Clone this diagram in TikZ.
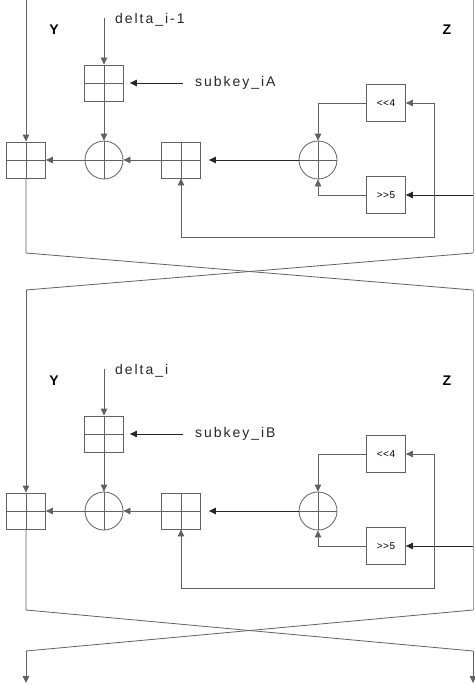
\documentclass[tikz,border=0pt]{standalone}
\usepackage{fontspec}
\setmainfont{Liberation Sans}
\usetikzlibrary{arrows.meta}
\tikzset{
  x=1pt, y=-1pt,
  wire/.style={draw=black!62, line width=0.8pt},
  darkwire/.style={draw=black!85, line width=0.9pt},
  tip/.style={-{Triangle[length=7pt,width=6.5pt]}},
  crosspic/.style={path picture={\draw[black!62,line width=0.8pt]
      (path picture bounding box.north)--(path picture bounding box.south)
      (path picture bounding box.west)--(path picture bounding box.east);}},
  plusbox/.style={draw=black!62, line width=0.8pt, minimum width=39pt, minimum height=36pt, inner sep=0pt, crosspic},
  xorc/.style={circle, draw=black!62, line width=0.8pt, minimum size=38pt, inner sep=0pt, crosspic},
  shiftbox/.style={draw=black!62, line width=0.8pt, minimum width=39pt, minimum height=37pt, inner sep=0pt, font=\fontsize{10}{11}\selectfont\addfontfeature{LetterSpace=6}},
  lbl/.style={anchor=west, inner sep=0pt, text=black!85, font=\fontsize{14}{16}\selectfont\addfontfeature{LetterSpace=14}},
  yz/.style={inner sep=0pt, font=\bfseries\fontsize{14}{16}\selectfont}
}
\newcommand\tearound[4]{% #1 suffix, #2 yshift, #3 delta label, #4 subkey label
\begin{scope}[yshift=#2]
  \node[yz] (Y#1) at (54,30) {Y};
  \node[yz] (Z#1) at (447,30) {Z};
  \coordinate (dstart#1) at (104,18);
  \node[lbl] (dl#1) at (115,20) {#3};
  \node[plusbox] (key#1) at (104,83) {};
  \coordinate (kstart#1) at (183,83);
  \node[lbl] (kl#1) at (195,83) {#4};
  \node[plusbox] (pl#1) at (26,160) {};
  \node[xorc] (xa#1) at (104,160) {};
  \node[plusbox] (pr#1) at (181,160) {};
  \node[xorc] (xb#1) at (318,160) {};
  \node[shiftbox] (shl#1) at (386,103) {{<}{<}4};
  \node[shiftbox] (shr#1) at (386,195) {{>}{>}5};
  \coordinate (zin#1) at (473,195);
  \coordinate (fbA#1) at (434,103);
  \coordinate (fbB#1) at (434,237);
  \coordinate (fbC#1) at (181,237);
  \draw[wire,tip] (dstart#1) -- (key#1.north);
  \draw[darkwire,tip,shorten >=6pt] (kstart#1) -- (key#1.east);
  \draw[wire,tip] (key#1.south) -- (xa#1.north);
  \draw[wire,tip] (pr#1.west) -- (xa#1.east);
  \draw[wire,tip] (xa#1.west) -- (pl#1.east);
  \draw[darkwire,tip,shorten >=8pt] (xb#1.west) -- (pr#1.east);
  \draw[wire,tip] (shl#1.west) -| (xb#1.north);
  \draw[wire,tip] (shr#1.west) -| (xb#1.south);
  \draw[darkwire,tip] (zin#1) -- (shr#1.east);
  \draw[wire,tip] (fbC#1) -- (pr#1.south);
  \draw[wire] (fbC#1) -- (fbB#1) -- (fbA#1);
  \draw[wire,tip] (fbA#1) -- (shl#1.east);
\end{scope}}
\begin{document}
\begin{tikzpicture}
  \useasboundingbox (0,0) rectangle (474,685);
  \tearound{A}{0pt}{delta\_i-1}{subkey\_iA}
  \tearound{B}{-351pt}{delta\_i}{subkey\_iB}
  % outer wires and crossings
  \coordinate (ytop) at (26,0);
  \coordinate (ztop) at (473,0);
  \coordinate (c1L1) at (26,253);
  \coordinate (c1R1) at (473,253);
  \coordinate (c1L2) at (26,290);
  \coordinate (c1R2) at (473,290);
  \coordinate (c2L1) at (26,610);
  \coordinate (c2R1) at (473,610);
  \coordinate (c2L2) at (26,651);
  \coordinate (c2R2) at (473,651);
  \coordinate (endL) at (26,683);
  \coordinate (endR) at (473,683);
  \draw[wire,tip] (ytop) -- (plA.north);
  \draw[wire] (plA.south) -- (c1L1) -- (c1R2);
  \draw[draw=black!35, line width=0.8pt] (ztop) -- (c1R1);
  \draw[wire] (c1R1) -- (c1L2);
  \draw[wire,tip] (c1L2) -- (plB.north);
  \draw[wire] (plB.south) -- (c2L1) -- (c2R2);
  \draw[draw=black!35, line width=0.8pt] (c1R2) -- (c2R1);
  \draw[wire] (c2R1) -- (c2L2);
  \draw[wire,tip] (c2L2) -- (endL);
  \draw[wire,tip] (c2R2) -- (endR);
\end{tikzpicture}
\end{document}
